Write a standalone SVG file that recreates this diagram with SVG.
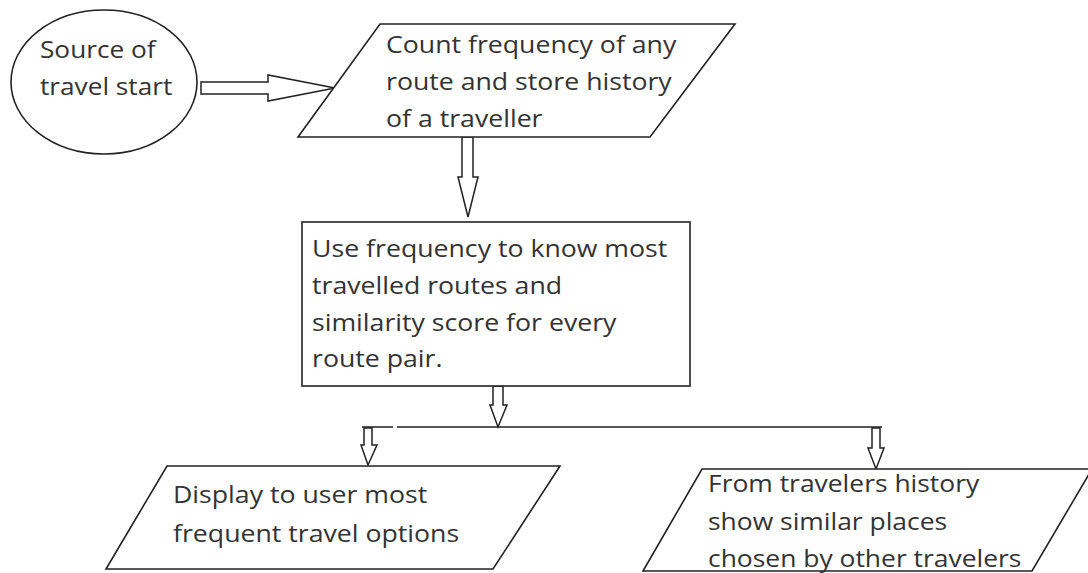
<svg xmlns="http://www.w3.org/2000/svg" width="1088" height="573" viewBox="0 0 1088 573">
<style>
.shape{fill:#fff;stroke:#222;stroke-width:1.6}
.arrow{fill:#fff;stroke:#222;stroke-width:1.5;stroke-linejoin:miter}
.line{fill:none;stroke:#222;stroke-width:1.6}
text{font-family:"Open Sans","Noto Sans","DejaVu Sans",sans-serif;font-size:23px;fill:#333}
</style>
<rect width="1088" height="573" fill="#fff"/>
<g id="connectors">
<polygon class="arrow" points="201,82 268,82 268,75 335,88 268,101 268,94 201,94"/>
<polygon class="arrow" points="462,137 473,137 473,177 478,177 468,217 458,177 462,177"/>
<polygon class="arrow" points="493,386 503,386 503,405 507,405 498,427 490,405 493,405"/>
<path class="line" d="M362,427 H393 M397,427 H882"/>
<polygon class="arrow" points="364,428 372,428 372,445 377,445 368,465 361,445 364,445"/>
<polygon class="arrow" points="872,428 880,428 880,448 884,448 876,469 868,448 872,448"/>
</g>
<g id="start">
<ellipse class="shape" cx="104" cy="82" rx="93" ry="72"/>
<g transform="translate(40,0) scale(1.14,1)">
<text x="0" y="58">Source of</text>
<text x="0" y="95">travel start</text>
</g>
</g>
<g id="count">
<polygon class="shape" points="380,24 735,24 650,137 298,137"/>
<g transform="translate(386,0) scale(1.16,1)">
<text x="0" y="53">Count frequency of any</text>
<text x="0" y="90">route and store history</text>
<text x="0" y="127">of a traveller</text>
</g>
</g>
<g id="use">
<rect class="shape" x="302" y="222" width="388" height="164"/>
<g transform="translate(312,0) scale(1.16,1)">
<text x="0" y="257">Use frequency to know most</text>
<text x="0" y="294">travelled routes and</text>
<text x="0" y="331">similarity score for every</text>
<text x="0" y="367">route pair.</text>
</g>
</g>
<g id="display">
<polygon class="shape" points="167,466 560,466 493,569 106,569"/>
<g transform="translate(173,0) scale(1.16,1)">
<text x="0" y="503">Display to user most</text>
<text x="0" y="542">frequent travel options</text>
</g>
</g>
<g id="similar">
<polygon class="shape" points="702,469 1092,469 1032,571 643,571"/>
<g transform="translate(708,0) scale(1.15,1)">
<text x="0" y="492">From travelers history</text>
<text x="0" y="530">show similar places</text>
<text x="0" y="567">chosen by other travelers</text>
</g>
</g>
</svg>
